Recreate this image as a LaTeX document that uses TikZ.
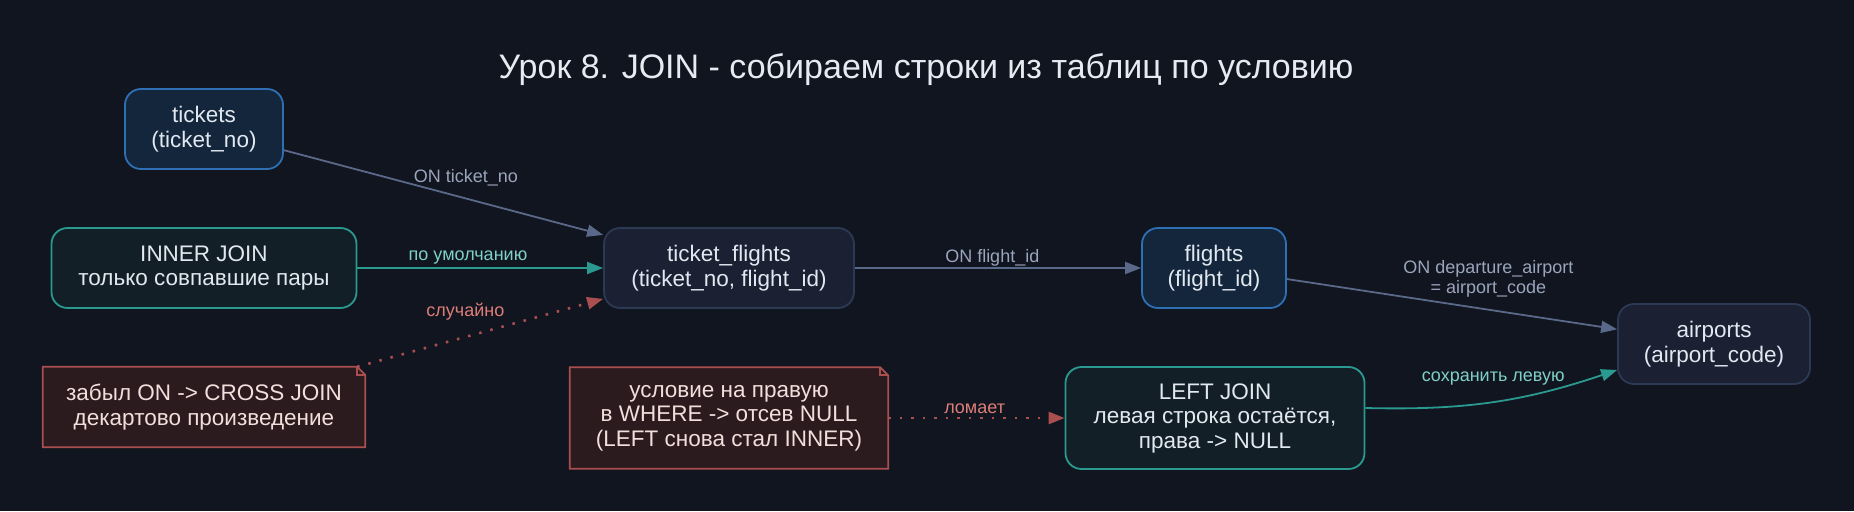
\documentclass[tikz,border=0pt]{standalone}
\usepackage{fontspec}
\setmainfont{Liberation Sans}
\usetikzlibrary{arrows.meta,calc}
\definecolor{bgc}{HTML}{10151F}
\definecolor{bluefill}{HTML}{13263C}
\definecolor{blueline}{HTML}{2F6FB3}
\definecolor{darkfill}{HTML}{1B2133}
\definecolor{darkline}{HTML}{2C3954}
\definecolor{tealfill}{HTML}{131F27}
\definecolor{tealline}{HTML}{2A9A90}
\definecolor{notefill}{HTML}{2C1B1E}
\definecolor{noteline}{HTML}{A94F4F}
\definecolor{textc}{HTML}{E2E8F0}
\definecolor{notetext}{HTML}{F2DEDC}
\definecolor{edgegray}{HTML}{5A6889}
\definecolor{lblgray}{HTML}{9AA5BC}
\definecolor{lblteal}{HTML}{7FD0C7}
\definecolor{lblred}{HTML}{DE7E78}
\definecolor{titlec}{HTML}{E6EBF2}
\tikzset{
  box/.style={rounded corners=16pt, line width=1.8pt, align=center, text=textc,
    font=\fontsize{22.5}{24.5}\selectfont, inner sep=0pt},
  bluebox/.style={box, draw=blueline, fill=bluefill},
  darkbox/.style={box, draw=darkline, fill=darkfill},
  tealbox/.style={box, draw=tealline, fill=tealfill},
  notebox/.style={align=center, text=notetext, font=\fontsize{22.5}{24.5}\selectfont, inner sep=0pt},
  noteshape/.style={draw=noteline, fill=notefill, line width=1.8pt},
  tip/.style={-{Triangle[length=16pt,width=12pt]}},
  gedge/.style={tip, draw=edgegray, line width=1.8pt},
  tedge/.style={tip, draw=tealline, line width=1.8pt},
  redge/.style={tip, draw=noteline, line width=2.6pt, dash pattern=on 2.5pt off 9pt},
  lbl/.style={font=\fontsize{18}{20.5}\selectfont, align=center, inner sep=0pt},
  glbl/.style={lbl, text=lblgray},
  tlbl/.style={lbl, text=lblteal},
  rlbl/.style={lbl, text=lblred},
}
\begin{document}
\begin{tikzpicture}[x=1pt,y=-1pt]
\fill[bgc] (0,0) rectangle (1854,511);
\useasboundingbox (0,0) rectangle (1854,511);

\node[text=titlec, font=\fontsize{34}{38}\selectfont] (title) at (926,70) {Урок 8. JOIN - собираем строки из таблиц по условию};

\node[bluebox, minimum width=158pt, minimum height=80pt] (tickets) at (204,129) {tickets\\(ticket\_no)};
\node[tealbox, minimum width=305pt, minimum height=80pt] (inner) at (204,268) {INNER JOIN\\только совпавшие пары};
\node[darkbox, minimum width=250pt, minimum height=80pt] (tf) at (729,268) {ticket\_flights\\(ticket\_no, flight\_id)};
\node[bluebox, minimum width=144pt, minimum height=80pt] (flights) at (1214,268) {flights\\(flight\_id)};
\node[darkbox, minimum width=192pt, minimum height=80pt] (airports) at (1714,344) {airports\\(airport\_code)};
\node[tealbox, minimum width=299pt, minimum height=102pt] (leftjoin) at (1215,418) {LEFT JOIN\\левая строка остаётся,\\права -> NULL};

\node[notebox, minimum width=322pt, minimum height=80pt] (forgot) at (204,407) {};
\draw[noteshape] (forgot.south west) -- (forgot.north west) -- ([xshift=-8pt]forgot.north east) -- ([yshift=-8pt]forgot.north east) -- (forgot.south east) -- cycle;
\draw[draw=noteline, line width=1.8pt] ([xshift=-8pt]forgot.north east) -- ([xshift=-8pt,yshift=-8pt]forgot.north east) -- ([yshift=-8pt]forgot.north east);
\node[notebox] at (forgot) {забыл ON -> CROSS JOIN\\декартово произведение};

\node[notebox, minimum width=318pt, minimum height=101pt] (cond) at (729,418) {};
\draw[noteshape] (cond.south west) -- (cond.north west) -- ([xshift=-8pt]cond.north east) -- ([yshift=-8pt]cond.north east) -- (cond.south east) -- cycle;
\draw[draw=noteline, line width=1.8pt] ([xshift=-8pt]cond.north east) -- ([xshift=-8pt,yshift=-8pt]cond.north east) -- ([yshift=-8pt]cond.north east);
\node[notebox] at (cond) {условие на правую\\в WHERE -> отсев NULL\\(LEFT снова стал INNER)};

\draw[gedge] (tickets) -- (tf) node[glbl, pos=0.57, yshift=21pt] {ON ticket\_no};
\draw[tedge] (inner) -- (tf) node[tlbl, pos=0.45, yshift=10pt] {по умолчанию};
\draw[redge] ([xshift=-8pt]forgot.north east) -- ([yshift=10pt]tf.south west) node[rlbl, pos=0.44, yshift=25pt] {случайно};
\draw[gedge] (tf) -- (flights) node[glbl, pos=0.48, yshift=10pt] {ON flight\_id};
\draw[gedge] (flights) -- (airports) node[glbl, pos=0.61, yshift=31pt] {ON departure\_airport\\= airport\_code};
\draw[tedge] ([yshift=10pt]leftjoin.east) to[bend right=10] node[tlbl, pos=0.5, yshift=23pt] {сохранить левую} ([yshift=-26pt]airports.west);
\draw[redge] (cond) -- (leftjoin) node[rlbl, pos=0.49, yshift=9pt] {ломает};
\end{tikzpicture}
\end{document}
